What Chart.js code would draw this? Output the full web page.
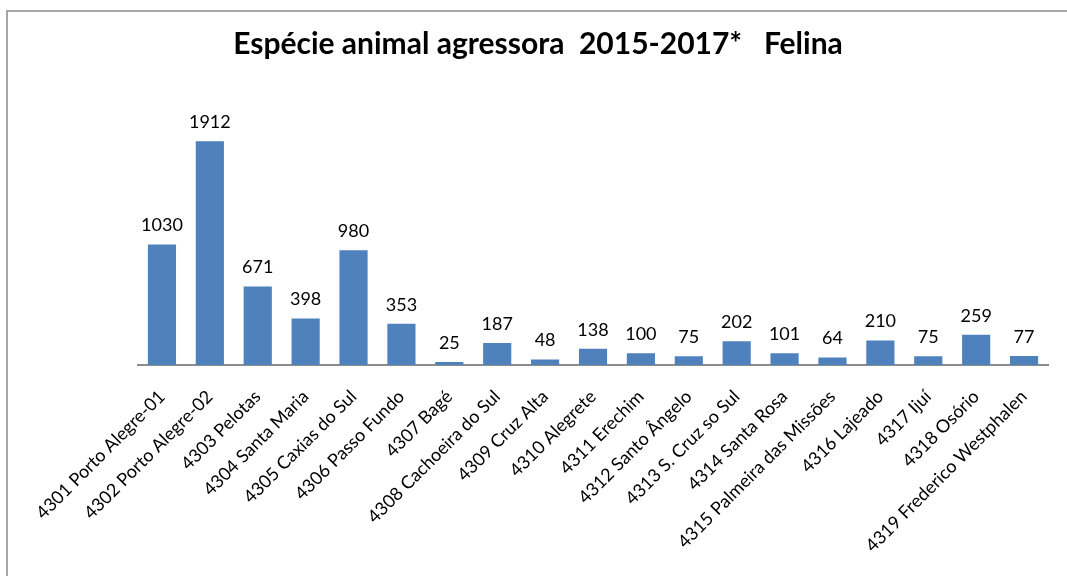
<!DOCTYPE html>
<html>
<head>
<meta charset="utf-8">
<script src="https://cdn.jsdelivr.net/npm/chart.js@4/dist/chart.umd.min.js"></script>
<style>
  html, body { margin: 0; padding: 0; background: #fff; overflow: hidden; }
  #wrap { position: relative; width: 1067px; height: 576px; overflow: hidden; }
  #frame { position: absolute; left: 6px; top: 10px; width: 1100px; height: 600px; border: 2px solid #a6a6a6; box-sizing: border-box; pointer-events: none; }
  canvas { position: absolute; left: 0; top: 0; }
</style>
</head>
<body>
<div id="wrap">
  <canvas id="c" width="1067" height="576"></canvas>
  <div id="frame"></div>
</div>
<script>
const titleText = "Espécie animal agressora  2015-2017*   Felina";
const categories = [
  "4301 Porto Alegre-01", "4302 Porto Alegre-02", "4303 Pelotas", "4304 Santa Maria",
  "4305 Caxias do Sul", "4306 Passo Fundo", "4307 Bagé", "4308 Cachoeira do Sul",
  "4309 Cruz Alta", "4310 Alegrete", "4311 Erechim", "4312 Santo Ângelo",
  "4313 S. Cruz so Sul", "4314 Santa Rosa", "4315 Palmeira das Missões", "4316 Lajeado",
  "4317 Ijuí", "4318 Osório", "4319 Frederico Westphalen"
];
const felina = [1030, 1912, 671, 398, 980, 353, 25, 187, 48, 138, 100, 75, 202, 101, 64, 210, 75, 259, 77];
const yMax = 2500;

const FONT = "Lato, 'Open Sans', sans-serif";

const dataLabels = {
  id: 'dataLabels',
  afterDatasetsDraw(chart) {
    const ctx = chart.ctx;
    const meta = chart.getDatasetMeta(0);
    ctx.save();
    ctx.font = "18px " + FONT;
    ctx.fillStyle = "#000";
    ctx.textAlign = "center";
    ctx.textBaseline = "middle";
    meta.data.forEach((bar, i) => {
      ctx.fillText(String(chart.data.datasets[0].data[i]), bar.x, bar.y - 19);
    });
    ctx.restore();
  }
};

const titlePlugin = {
  id: 'customTitle',
  afterDraw(chart) {
    const ctx = chart.ctx;
    ctx.save();
    ctx.font = "bold 30px " + FONT;
    ctx.fillStyle = "#000";
    ctx.textAlign = "center";
    ctx.textBaseline = "middle";
    ctx.fillText(titleText, 538, 44);
    ctx.restore();
  }
};

new Chart(document.getElementById('c'), {
  type: 'bar',
  data: {
    labels: categories,
    datasets: [{
      data: felina,
      backgroundColor: '#4F81BD',
      borderWidth: 0,
      categoryPercentage: 1.0,
      barPercentage: 0.588
    }]
  },
  options: {
    responsive: false,
    animation: false,
    events: [],
    layout: { padding: { left: 138, right: 19, top: 72.5, bottom: 0 } },
    plugins: { legend: { display: false }, title: { display: false }, tooltip: { enabled: false } },
    scales: {
      x: {
        grid: { display: false },
        border: { display: true, color: '#8c8c8c', width: 2 },
        ticks: {
          color: '#000',
          font: { family: FONT, size: 18 },
          minRotation: 45, maxRotation: 45,
          autoSkip: false,
          padding: 13
        },
        afterFit(scale) { scale.height = 576 - 365; }
      },
      y: {
        display: false,
        min: 0, max: yMax
      }
    }
  },
  plugins: [dataLabels, titlePlugin]
});
</script>
</body>
</html>
